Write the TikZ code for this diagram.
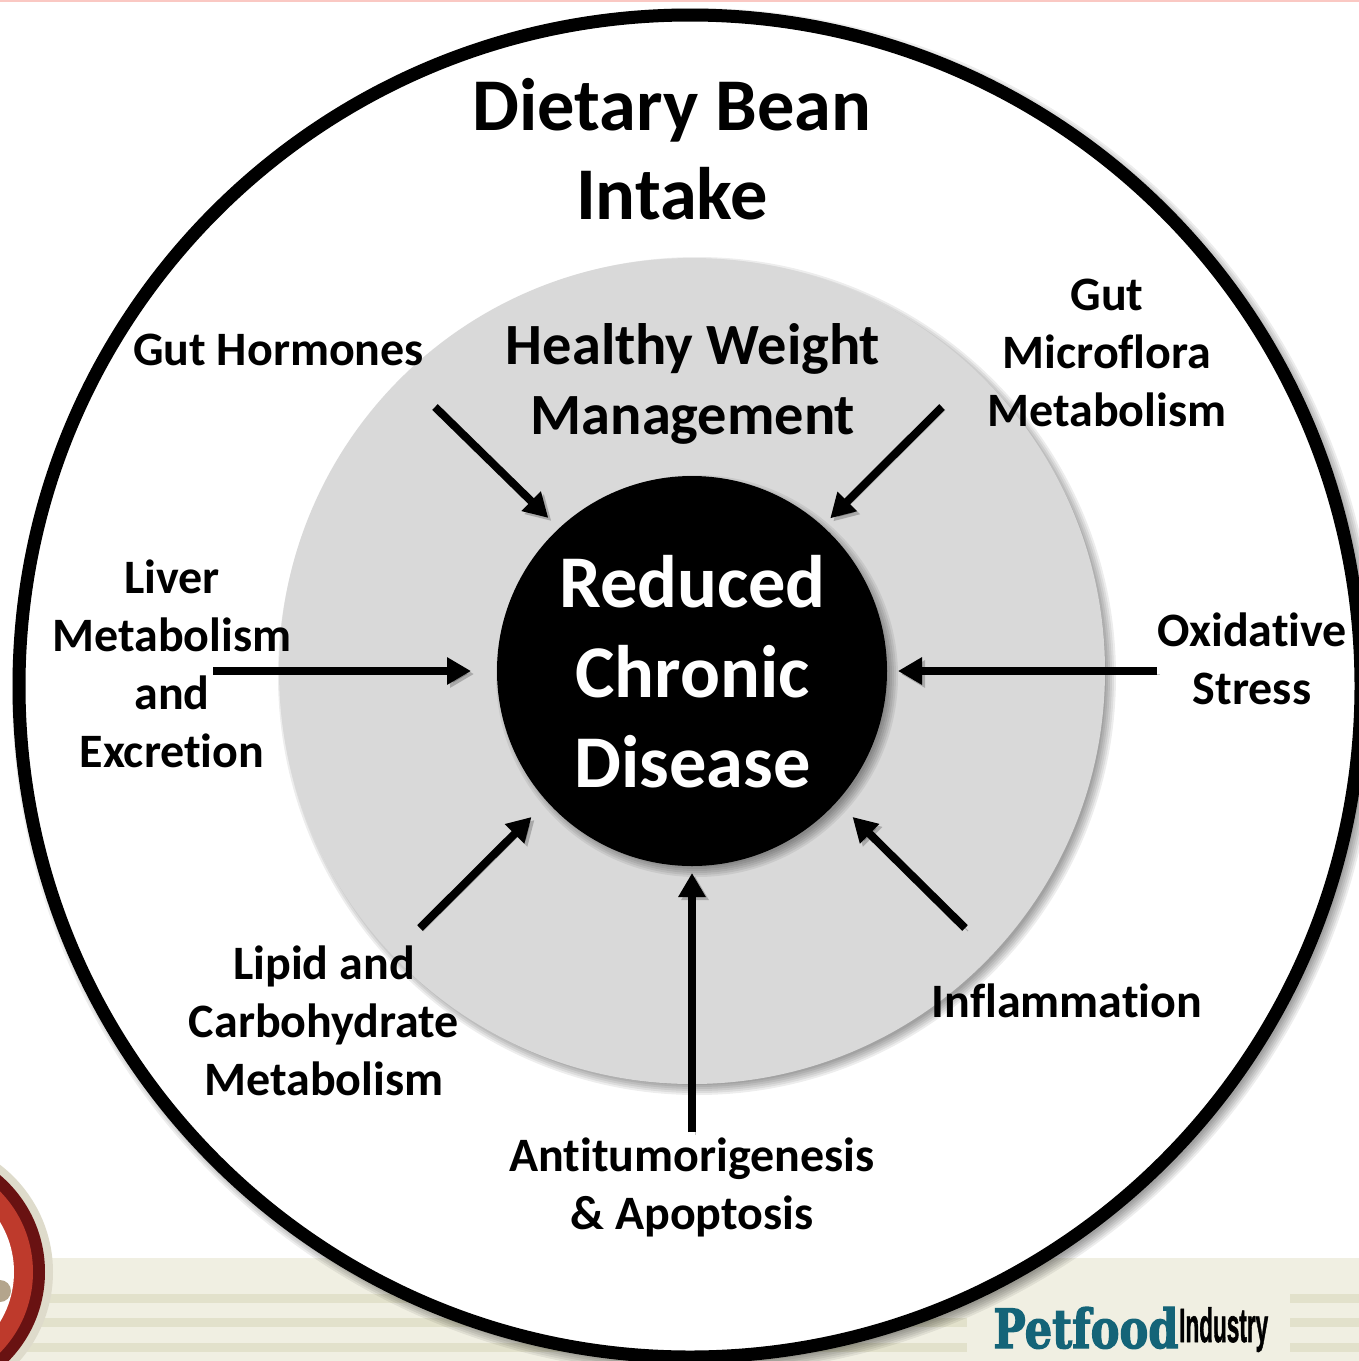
\documentclass[tikz,border=0pt]{standalone}
\usepackage{fontspec}
\setmainfont[Ligatures=NoCommon]{Carlito}
\newfontfamily\slabfont[BoldFeatures={FakeBold=2.5}]{DejaVu Serif}
\newfontfamily\logofont[BoldFeatures={FakeBold=1.5}]{Liberation Sans}
\usetikzlibrary{arrows.meta}
\definecolor{ringGrey}{RGB}{217,217,217}
\definecolor{bandCream}{RGB}{240,239,226}
\definecolor{bandStripe}{RGB}{226,225,203}
\definecolor{logoTeal}{RGB}{20,100,120}
\definecolor{logoRed}{RGB}{190,58,44}
\definecolor{logoDark}{RGB}{105,18,18}
\definecolor{logoBeige}{RGB}{222,219,203}
\definecolor{logoDot}{RGB}{180,165,140}
\definecolor{edgePink}{RGB}{250,200,195}
\newcommand{\softshade}[3]{%
  \foreach \d in {-4,-2,...,6} {
    \fill[black, opacity=0.07] (#1+5,#2+5) circle[radius=#3+\d*0.5];
  }}
\begin{document}
\begin{tikzpicture}[
    x=0.5pt, y=-0.5pt,
    disc/.style={circle, inner sep=0pt, outer sep=0pt},
    titletext/.style={align=center, font=\fontsize{37.2}{44.7}\selectfont\bfseries},
    midtext/.style={align=center, font=\fontsize{29.2}{35}\selectfont\bfseries},
    factor/.style={align=center, font=\fontsize{24}{29}\selectfont\bfseries},
    coretext/.style={align=center, text=white, font=\fontsize{37.2}{45}\selectfont\bfseries},
    pointer/.style={line width=4pt, -{Triangle[length=12pt, width=13pt]},
        preaction={draw=black, opacity=0.22, transform canvas={shift={(1.5pt,-1.5pt)}}}},
    stripe/.style={fill=bandStripe, draw=none}
]
\useasboundingbox (0,0) rectangle (1359,1361);
% page background
\begin{scope}
\clip (0,0) rectangle (1359,1361);
\fill[white] (0,0) rectangle (1359,1361);
\fill[edgePink] (0,0) rectangle (1359,2);
\fill[bandCream] (0,1258) rectangle (1359,1361);
\foreach \y in {1294,1318,1343} {
    \fill[stripe] (0,\y) rectangle (967,\y+9);
    \fill[stripe] (1290,\y) rectangle (1359,\y+9);
}
% logo at lower left
\fill[logoBeige] (-82,1272) circle[radius=67.5pt];
\fill[logoDark] (-82,1272) circle[radius=63.5pt];
\fill[logoRed] (-82,1272) circle[radius=57.5pt];
\fill[white] (-82,1272) circle[radius=48pt];
\fill[logoDot] (0,1291) circle[radius=5.5pt];
% circles
\softshade{690}{686}{338.5pt}
\node[disc, fill=white, draw=black, line width=6.5pt, minimum size=671pt] (outer) at (690,686) {};
\softshade{692}{671}{206.5pt}
\node[disc, fill=ringGrey, minimum size=413pt] (weight) at (692,671) {};
\softshade{692}{671}{97.5pt}
\node[disc, fill=black, minimum size=195pt] (core) at (692,671) {};
\end{scope}
% labels
\node[titletext] (intake) at (672,149) {Dietary Bean\\Intake};
\node[midtext] (manage) at (693,384) {Healthy Weight\\Management};
\node[coretext] (disease) at (692.5,672) {Reduced\\Chronic\\Disease};
\node[factor] (hormones) at (278.5,350) {Gut Hormones};
\node[factor] (flora) at (1107,352.5) {Gut\\Microflora\\Metabolism};
\node[factor] (liver) at (172,663.5) {Liver\\Metabolism\\and\\Excretion};
\node[factor] (oxid) at (1252,659) {Oxidative\\Stress};
\node[factor] (lipid) at (324,1020.5) {Lipid and\\Carbohydrate\\Metabolism};
\node[factor] (inflam) at (1067,1000.5) {Inflammation};
\node[factor] (tumor) at (692,1187) {Antitumorigenesis\\\& Apoptosis};
% free ends of the arrows
\coordinate (h1) at (435,407);
\coordinate (f1) at (942,407);
\coordinate (l1) at (213,671);
\coordinate (o1) at (1157,671);
\coordinate (c1) at (420,928);
\coordinate (i1) at (965,928);
\coordinate (t1) at (692,1132);
\draw[pointer, shorten >=7.5pt] (h1) -- (core.133);
\draw[pointer, shorten >=5.5pt] (f1) -- (core.48);
\draw[pointer, shorten >=13pt] (l1) -- (core);
\draw[pointer, shorten >=5.5pt] (o1) -- (core);
\draw[pointer, shorten >=11pt] (c1) -- (core.222);
\draw[pointer, shorten >=11pt] (i1) -- (core.318);
\draw[pointer, shorten >=3.5pt] (t1) -- (core);
% trade mark at lower right
\node[text=logoTeal, inner sep=0pt, anchor=base west, xscale=0.8, font=\slabfont\bfseries\fontsize{27}{27}\selectfont] (petfood) at (993,1348) {Petfood};
\node[inner sep=0pt, anchor=base west, xscale=0.47, font=\logofont\bfseries\fontsize{24}{24}\selectfont] (industry) at (1179,1342) {Industry};
\end{tikzpicture}
\end{document}
